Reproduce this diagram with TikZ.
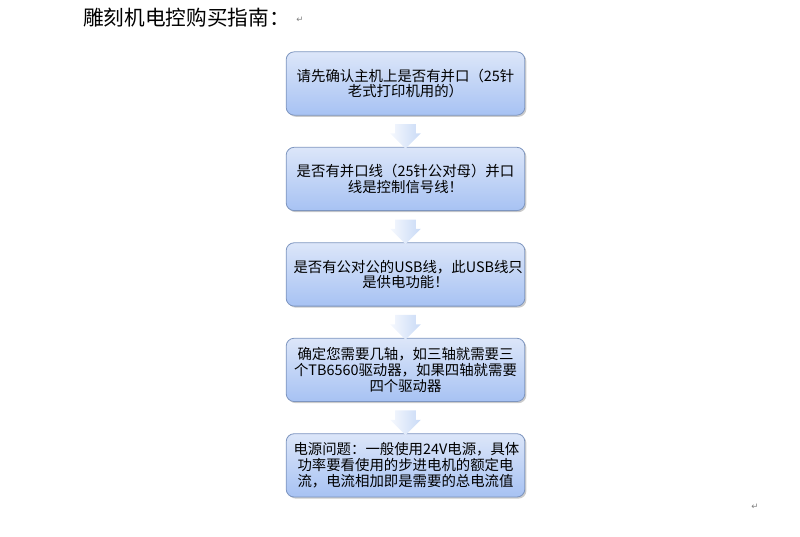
\documentclass[tikz,border=0pt]{standalone}
\usepackage{fontspec}
\setmainfont{Noto Sans CJK SC}
\newfontfamily\markfont{DejaVu Sans}
\usetikzlibrary{calc, shapes, shapes.arrows, shadows, positioning}

\definecolor{boxtop}{HTML}{DCE6F9}
\definecolor{boxbot}{HTML}{A7C2F3}
\definecolor{boxline}{HTML}{7D95BF}
\definecolor{arrtop}{HTML}{F6F9FE}
\definecolor{arrbot}{HTML}{C9DAF6}

\begin{document}
\begin{tikzpicture}[
        x=0.75pt, y=-0.75pt,
        node distance=23.5pt,
        stepbox/.style={rectangle, rounded corners=6pt, draw=boxline, line width=0.6pt,
            top color=boxtop, bottom color=boxbot,
            drop shadow={shadow xshift=1.2pt, shadow yshift=-1.2pt, fill=black!45, opacity=.45},
            minimum width=179pt, minimum height=47.5pt, text width=168pt, align=center,
            inner sep=2pt, font=\fontsize{10.8pt}{11.8pt}\selectfont},
        downarrow/.style={single arrow, rotate=-90, draw=none,
            left color=arrtop, right color=arrbot,
            minimum height=18.5pt, single arrow head extend=3.75pt,
            inner xsep=0pt, inner ysep=7.5pt},
        retmark/.style={text=gray, font=\markfont\fontsize{6.5pt}{7pt}\selectfont, inner sep=0pt}
    ]
    \useasboundingbox (0,0) rectangle (800,536);

    \node[anchor=west, inner sep=0pt, font=\fontsize{15.5pt}{17pt}\selectfont] (title) at (83,18) {雕刻机电控购买指南：};
    \node[retmark, anchor=west] (mark1) at ($(title.east)+(6,2)$) {↵};

    \node[stepbox] (s1) at (405.5,83.5) {请先确认主机上是否有并口（25针\\老式打印机用的）};
    \node[stepbox] (s2) [below=of s1] {是否有并口线（25针公对母）并口\\线是控制信号线！};
    \node[stepbox] (s3) [below=of s2] {是否有公对公的USB线，此USB线只\\是供电功能！};
    \node[stepbox] (s4) [below=of s3] {确定您需要几轴，如三轴就需要三\\个TB6560驱动器，如果四轴就需要\\四个驱动器};
    \node[stepbox] (s5) [below=of s4] {电源问题：一般使用24V电源，具体\\功率要看使用的步进电机的额定电\\流，电流相加即是需要的总电流值};

    \node[downarrow] (a1) at ($(s1.south)!0.5!(s2.north)$) {};
    \node[downarrow] (a2) at ($(s2.south)!0.5!(s3.north)$) {};
    \node[downarrow] (a3) at ($(s3.south)!0.5!(s4.north)$) {};
    \node[downarrow] (a4) at ($(s4.south)!0.5!(s5.north)$) {};

    \node[retmark] (mark2) at (755,507) {↵};
\end{tikzpicture}
\end{document}
